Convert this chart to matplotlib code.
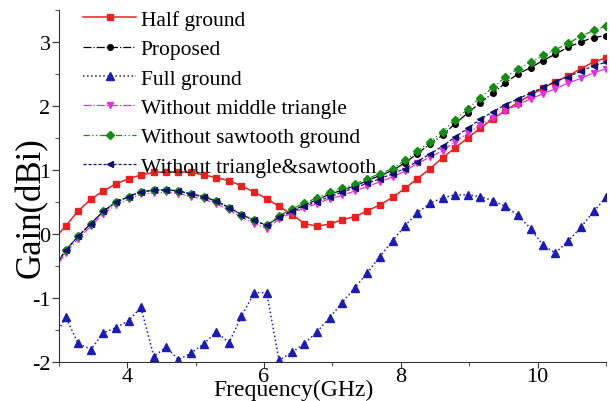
import matplotlib
matplotlib.use("Agg")
import matplotlib.pyplot as plt
from matplotlib.ticker import MultipleLocator

plt.rcParams['font.family'] = ['Liberation Serif', 'DejaVu Serif']
plt.rcParams['axes.unicode_minus'] = False

# frequency points (GHz); first point is the axis edge, markers start at the second
freq = [3.00, 3.10, 3.28, 3.47, 3.65, 3.83, 4.02, 4.20, 4.39, 4.57, 4.75,
        4.94, 5.12, 5.30, 5.49, 5.67, 5.86, 6.04, 6.22, 6.41, 6.59,
        6.77, 6.96, 7.14, 7.33, 7.51, 7.69, 7.88, 8.06, 8.24, 8.43,
        8.61, 8.79, 8.98, 9.16, 9.35, 9.53, 9.71, 9.90, 10.08, 10.26,
        10.45, 10.63, 10.82, 11.00]

half_ground = [0.00, 0.12, 0.355, 0.54, 0.67, 0.78, 0.86, 0.92, 0.96, 0.97, 0.97,
               0.96, 0.92, 0.88, 0.83, 0.75, 0.65, 0.55, 0.43, 0.30, 0.16,
               0.12, 0.15, 0.22, 0.27, 0.36, 0.45, 0.57, 0.71, 0.86, 1.02,
               1.19, 1.34, 1.50, 1.65, 1.80, 1.93, 2.05, 2.17, 2.28, 2.38,
               2.47, 2.58, 2.69, 2.75]

proposed = [-0.42, -0.26, -0.04, 0.16, 0.35, 0.49, 0.58, 0.66, 0.68, 0.69, 0.67,
            0.62, 0.58, 0.51, 0.41, 0.30, 0.21, 0.13, 0.26, 0.36, 0.45,
            0.53, 0.62, 0.68, 0.75, 0.83, 0.91, 0.99, 1.11, 1.25, 1.41,
            1.54, 1.72, 1.89, 2.05, 2.20, 2.36, 2.50, 2.60, 2.71, 2.81,
            2.92, 3.00, 3.07, 3.10]

full_ground = [-1.50, -1.30, -1.71, -1.81, -1.55, -1.47, -1.36, -1.15, -1.92, -1.77, -1.97,
               -1.86, -1.72, -1.54, -1.70, -1.29, -0.92, -0.92, -1.98, -1.85, -1.72,
               -1.54, -1.31, -1.08, -0.84, -0.61, -0.36, -0.11, 0.125, 0.33, 0.48,
               0.56, 0.61, 0.61, 0.58, 0.52, 0.43, 0.29, 0.08, -0.18, -0.30,
               -0.11, 0.10, 0.35, 0.57]

no_middle_tri = [-0.46, -0.30, -0.08, 0.12, 0.31, 0.45, 0.54, 0.62, 0.64, 0.65, 0.63,
                 0.58, 0.54, 0.47, 0.37, 0.26, 0.16, 0.08, 0.23, 0.33, 0.40,
                 0.47, 0.55, 0.60, 0.67, 0.74, 0.81, 0.89, 0.98, 1.10, 1.20,
                 1.30, 1.44, 1.57, 1.70, 1.81, 1.92, 2.02, 2.11, 2.19, 2.27,
                 2.36, 2.43, 2.52, 2.58]

no_sawtooth = [-0.42, -0.26, -0.04, 0.16, 0.35, 0.50, 0.58, 0.66, 0.68, 0.69, 0.67,
               0.62, 0.58, 0.51, 0.41, 0.30, 0.21, 0.13, 0.28, 0.39, 0.48,
               0.56, 0.65, 0.71, 0.78, 0.86, 0.94, 1.02, 1.15, 1.29, 1.44,
               1.60, 1.78, 1.95, 2.13, 2.29, 2.45, 2.58, 2.68, 2.79, 2.88,
               2.98, 3.09, 3.18, 3.25]

no_tri_saw = [-0.42, -0.26, -0.04, 0.16, 0.35, 0.49, 0.58, 0.66, 0.68, 0.69, 0.67,
              0.62, 0.58, 0.51, 0.41, 0.30, 0.21, 0.13, 0.26, 0.35, 0.43,
              0.50, 0.58, 0.65, 0.72, 0.79, 0.86, 0.94, 1.02, 1.13, 1.25,
              1.37, 1.51, 1.65, 1.79, 1.91, 2.02, 2.11, 2.20, 2.29, 2.38,
              2.46, 2.54, 2.63, 2.68]

fig = plt.figure(figsize=(6.10, 4.02), dpi=100)
ax = fig.add_axes([0.0964, 0.0978, 0.8970, 0.8748])

me = (1, 1)
ax.plot(freq, half_ground, '-', color='#e62222', lw=1.1, marker='s', ms=4,
        markevery=me, label='Half ground')
ax.plot(freq, proposed, '-.', color='black', lw=0.9, marker='o', ms=4,
        markevery=me, label='Proposed')
ax.plot(freq, full_ground, ':', color='#1c1cb0', lw=1.1, marker='^', ms=6,
        markevery=me, label='Full ground')
ax.plot(freq, no_middle_tri, '-.', color='#e030e0', lw=0.9, marker='v', ms=5,
        markevery=me, label='Without middle triangle')
ax.plot(freq, no_sawtooth, linestyle=(0, (5, 2, 1, 2, 1, 2)), color='#168c16', lw=0.9,
        marker='D', ms=4.5, markevery=me, label='Without sawtooth ground')
ax.plot(freq, no_tri_saw, linestyle=(0, (2.5, 1.5)), color='#101070', lw=0.9,
        marker='<', ms=5, markevery=me, label='Without triangle&sawtooth')

ax.set_xlim(3, 11)
ax.set_ylim(-2, 3.5)
ax.xaxis.set_major_locator(MultipleLocator(2))
ax.xaxis.set_minor_locator(MultipleLocator(1))
ax.yaxis.set_major_locator(MultipleLocator(1))
ax.yaxis.set_minor_locator(MultipleLocator(0.5))
ax.spines['top'].set_visible(False)
ax.spines['right'].set_visible(False)
for s in ('left', 'bottom'):
    ax.spines[s].set_color('#333333')
ax.tick_params(which='major', direction='out', length=5, labelsize=16, color='#333333')
ax.tick_params(which='minor', direction='out', length=3, color='#333333')
ax.tick_params(axis='x', which='major', length=4, pad=0)
ax.tick_params(axis='y', pad=1)

ax.set_xlabel('Frequency(GHz)', fontsize=17)
ax.xaxis.set_label_coords(0.428, -0.048)
ax.set_ylabel('Gain(dBi)', fontsize=25)
ax.yaxis.set_label_coords(-0.02, 0.44)

ax.legend(loc='upper left', bbox_to_anchor=(0.029, 1.025), frameon=False, fontsize=15.5,
          handlelength=2.46, handletextpad=0.2, labelspacing=0.43, numpoints=1,
          borderaxespad=0)

fig.savefig('out.png', dpi=100)
